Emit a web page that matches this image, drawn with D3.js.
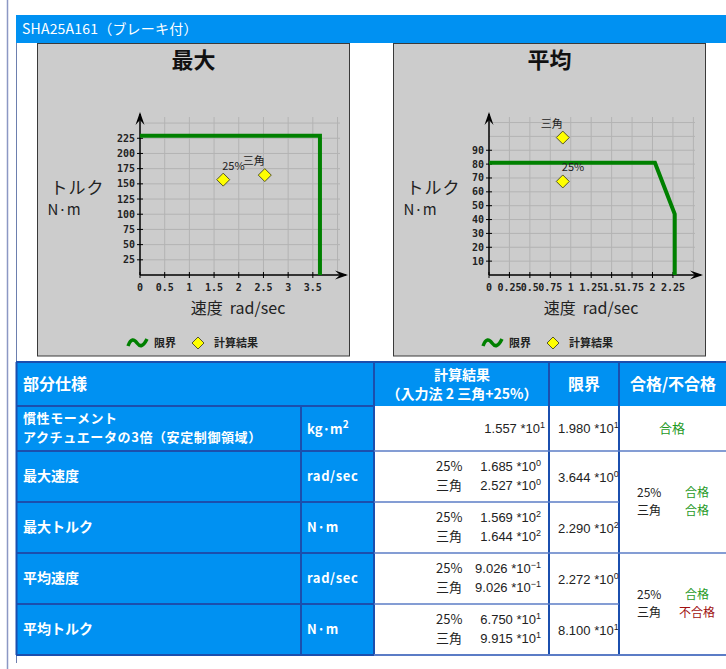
<!DOCTYPE html>
<html>
<head>
<meta charset="utf-8">
<script src="https://cdn.jsdelivr.net/npm/d3@7"></script>
<style>
  html, body { margin: 0; padding: 0; background: #fff; }
  svg text { font-family: "Noto Sans CJK JP", sans-serif; }
</style>
</head>
<body>
<svg id="page" width="726" height="669"></svg>
<script>
// chart data
const resultNames = ['25%', '三角'];

const maxXTicks = [0, 0.5, 1, 1.5, 2, 2.5, 3, 3.5];
const maxYTicks = [25, 50, 75, 100, 125, 150, 175, 200, 225];
const maxLimitSpeed = [0, 3.644, 3.644];
const maxLimitTorque = [229, 229, 0];
const maxSpeedResults = [1.685, 2.527];
const maxTorqueResults = [156.9, 164.4];

const avgXTicks = [0, 0.25, 0.5, 0.75, 1, 1.25, 1.5, 1.75, 2, 2.25];
const avgYTicks = [10, 20, 30, 40, 50, 60, 70, 80, 90];
const avgLimitSpeed = [0, 2.03, 2.272, 2.272];
const avgLimitTorque = [81, 81, 44, 0];
const avgSpeedResults = [0.9026, 0.9026];
const avgTorqueResults = [67.5, 99.15];

// table data
const inertiaResult = 15.57;
const inertiaLimit = 19.80;
const maxSpeedLimit = 3.644;
const maxTorqueLimit = 229.0;
const avgSpeedLimit = 2.272;
const avgTorqueLimit = 81.00;
const rowLabels = ['最大速度', '最大トルク', '平均速度', '平均トルク'];
const rowUnits = ['rad/sec', 'N·m', 'rad/sec', 'N·m'];
const maxJudge = ['合格', '合格'];
const avgJudge = ['合格', '不合格'];

const svg = d3.select('#page');

// page frame
svg.append('line').attr('x1', 7.5).attr('x2', 7.5).attr('y1', 0).attr('y2', 669)
   .attr('stroke', '#8c98c4').attr('stroke-width', 1.5);
svg.append('line').attr('x1', 16.5).attr('x2', 16.5).attr('y1', 15).attr('y2', 663)
   .attr('stroke', '#6d7fae').attr('stroke-width', 1);
svg.append('rect').attr('x', 16).attr('y', 15).attr('width', 712).attr('height', 28)
   .attr('fill', '#0091f2');
svg.append('text').attr('x', 22).attr('y', 29).attr('dy', '0.35em')
   .attr('fill', '#fff').attr('font-size', 14).attr('letter-spacing', 0.2)
   .text('SHA25A161（ブレーキ付）');

function drawChart(cfg) {
  const g = svg.append('g');
  g.append('rect').attr('x', cfg.box[0]).attr('y', cfg.box[1])
   .attr('width', cfg.box[2]).attr('height', cfg.box[3])
   .attr('fill', '#cccccc').attr('stroke', '#3a3a3a').attr('stroke-width', 1);

  const x = d3.scaleLinear().domain(cfg.xDomain).range([cfg.ox, cfg.xEnd]);
  const y = d3.scaleLinear().domain(cfg.yDomain).range([275, 117]);

  // grid
  g.selectAll('.vg').data(cfg.xGrid).join('line')
   .attr('x1', d => x(d)).attr('x2', d => x(d)).attr('y1', y.range()[0]).attr('y2', y.range()[1])
   .attr('stroke', '#b3b3b3').attr('stroke-width', 1);
  g.selectAll('.hg').data(cfg.yGrid).join('line')
   .attr('x1', x.range()[0]).attr('x2', x.range()[1]).attr('y1', d => y(d)).attr('y2', d => y(d))
   .attr('stroke', '#b3b3b3').attr('stroke-width', 1);

  // axes with arrows
  const ox = x(0), oy = y(0);
  g.append('line').attr('x1', ox).attr('x2', ox).attr('y1', oy).attr('y2', 114)
   .attr('stroke', '#000').attr('stroke-width', 1.5);
  g.append('line').attr('x1', ox).attr('x2', cfg.arrowX - 2).attr('y1', oy).attr('y2', oy)
   .attr('stroke', '#000').attr('stroke-width', 1.5);
  g.append('path').attr('d', `M${ox},112 L${ox - 4.5},125 L${ox},120 L${ox + 4.5},125 Z`).attr('fill', '#000');
  g.append('path').attr('d', `M${cfg.arrowX},${oy} L${cfg.arrowX - 13},${oy - 4.5} L${cfg.arrowX - 8},${oy} L${cfg.arrowX - 13},${oy + 4.5} Z`).attr('fill', '#000');

  // ticks
  g.selectAll('.yt').data(cfg.yTicks).join('line')
   .attr('x1', ox - 3).attr('x2', ox + 3).attr('y1', d => y(d)).attr('y2', d => y(d))
   .attr('stroke', '#000');
  g.selectAll('.ytl').data(cfg.yTicks).join('text')
   .attr('x', ox - 5).attr('y', d => y(d)).attr('dy', '0.35em')
   .attr('text-anchor', 'end')
   .attr('font-size', 10).attr('font-weight', 'bold').attr('fill', '#222')
   .style('font-family', '"DejaVu Sans Mono", monospace')
   .text(d => d);
  g.selectAll('.xt').data(cfg.xTicks).join('line')
   .attr('x1', d => x(d)).attr('x2', d => x(d)).attr('y1', oy - 3).attr('y2', oy + 3)
   .attr('stroke', '#000');
  g.selectAll('.xtl').data(cfg.xTicks).join('text')
   .attr('x', d => x(d)).attr('y', oy + 12).attr('dy', '0.35em')
   .attr('text-anchor', 'middle')
   .attr('font-size', 10).attr('font-weight', 'bold').attr('fill', '#222')
   .style('font-family', '"DejaVu Sans Mono", monospace')
   .text(d => String(d));

  // limit line
  const pts = cfg.limitX.map((v, i) => [v, cfg.limitY[i]]);
  g.append('path').attr('d', d3.line().x(d => x(d[0])).y(d => y(d[1]))(pts))
   .attr('fill', 'none').attr('stroke', '#008000').attr('stroke-width', 4);

  // results
  const res = resultNames.map((n, i) => ({ name: n, sx: cfg.resX[i], ty: cfg.resY[i] }));
  g.selectAll('.pt').data(res).join('path')
   .attr('d', d => { const cx = x(d.sx), cy = y(d.ty); return `M${cx},${cy - 6.5} L${cx + 6.5},${cy} L${cx},${cy + 6.5} L${cx - 6.5},${cy} Z`; })
   .attr('fill', '#ffff00').attr('stroke', '#55552a').attr('stroke-width', 1);
  g.selectAll('.pl').data(res).join('text')
   .attr('x', d => x(d.sx) + (d.name === '25%' ? -1 : 0))
   .attr('y', d => y(d.ty) - 10)
   .attr('text-anchor', d => d.name === '25%' ? 'start' : 'end')
   .attr('font-size', 11).attr('fill', '#222')
   .text(d => d.name);

  // titles
  const cx = cfg.box[0] + cfg.box[2] / 2;
  g.append('text').attr('x', cx).attr('y', 60).attr('dy', '0.35em').attr('text-anchor', 'middle')
   .attr('font-size', 22).attr('font-weight', 'bold').attr('fill', '#111').text(cfg.title);
  g.append('text').attr('x', cfg.box[0] + 13).attr('y', 188).attr('dy', '0.35em')
   .attr('font-size', 17).attr('fill', '#222').attr('letter-spacing', 1).text('トルク');
  g.append('text').attr('x', cfg.box[0] + 10).attr('y', 210).attr('dy', '0.35em')
   .attr('font-size', 15).attr('fill', '#222').text('N·m');
  g.append('text').attr('x', cfg.xLabelX).attr('y', 308).attr('dy', '0.35em').attr('text-anchor', 'middle')
   .attr('font-size', 16).attr('fill', '#222').text('速度\u00a0\u00a0rad/sec');

  // legend
  const lx = cfg.legendX, ly = 343;
  g.append('path').attr('d', `M${lx},${ly + 3} C${lx + 3},${ly - 5} ${lx + 6},${ly - 4} ${lx + 9},${ly} S${lx + 15},${ly + 4} ${lx + 19},${ly - 4}`)
   .attr('fill', 'none').attr('stroke', '#008000').attr('stroke-width', 3.5);
  g.append('text').attr('x', lx + 26).attr('y', ly).attr('dy', '0.35em')
   .attr('font-size', 11).attr('font-weight', 'bold').attr('fill', '#222').text('限界');
  g.append('path').attr('d', `M${lx + 70},${ly - 6} L${lx + 76},${ly} L${lx + 70},${ly + 6} L${lx + 64},${ly} Z`)
   .attr('fill', '#ffff00').attr('stroke', '#55552a');
  g.append('text').attr('x', lx + 86).attr('y', ly).attr('dy', '0.35em')
   .attr('font-size', 11).attr('font-weight', 'bold').attr('fill', '#222').text('計算結果');
}

drawChart({
  box: [37.5, 43.5, 312, 312.5], title: '最大',
  xDomain: [0, 4.05], yDomain: [0, 260], ox: 140, xEnd: 340, arrowX: 348,
  xGrid: [0.5, 1, 1.5, 2, 2.5, 3, 3.5, 4], yGrid: [25, 50, 75, 100, 125, 150, 175, 200, 225, 250],
  xTicks: maxXTicks, yTicks: maxYTicks,
  limitX: maxLimitSpeed, limitY: maxLimitTorque,
  resX: maxSpeedResults, resY: maxTorqueResults,
  xLabelX: 238, legendX: 128
});
drawChart({
  box: [393.5, 43.5, 312, 312.5], title: '平均',
  xDomain: [0, 2.52], yDomain: [0, 114], ox: 489, xEnd: 695, arrowX: 703,
  xGrid: [0.25, 0.5, 0.75, 1, 1.25, 1.5, 1.75, 2, 2.25, 2.5], yGrid: [10, 20, 30, 40, 50, 60, 70, 80, 90, 100, 110],
  xTicks: avgXTicks, yTicks: avgYTicks,
  limitX: avgLimitSpeed, limitY: avgLimitTorque,
  resX: avgSpeedResults, resY: avgTorqueResults,
  xLabelX: 591, legendX: 483
});

// ---- table ----
const colX = [16, 301, 374, 549, 619, 728];
const rowY = [362, 406, 451, 502, 553, 604, 655];
const blue = '#0091f2', dark = '#1b4fae', cellLine = '#5b7cc6';
const t = svg.append('g');

// backgrounds
t.append('rect').attr('x', colX[0]).attr('y', rowY[0]).attr('width', colX[5] - colX[0]).attr('height', rowY[1] - rowY[0]).attr('fill', blue);
t.append('rect').attr('x', colX[0]).attr('y', rowY[1]).attr('width', colX[2] - colX[0]).attr('height', rowY[6] - rowY[1]).attr('fill', blue);
t.append('rect').attr('x', colX[2]).attr('y', rowY[1]).attr('width', colX[5] - colX[2]).attr('height', rowY[6] - rowY[1]).attr('fill', '#fff');

// lines in blue area
rowY.forEach((ry, i) => {
  t.append('line').attr('x1', colX[0]).attr('x2', i === 0 || i === 6 ? colX[5] : colX[2] + 1)
   .attr('y1', ry).attr('y2', ry).attr('stroke', dark).attr('stroke-width', 2);
});
t.append('line').attr('x1', colX[0] + 0.5).attr('x2', colX[0] + 0.5).attr('y1', rowY[0]).attr('y2', rowY[6]).attr('stroke', dark).attr('stroke-width', 2);
t.append('line').attr('x1', colX[1]).attr('x2', colX[1]).attr('y1', rowY[1]).attr('y2', rowY[6]).attr('stroke', dark).attr('stroke-width', 2);
[colX[2], colX[3], colX[4]].forEach(cx => {
  t.append('line').attr('x1', cx).attr('x2', cx).attr('y1', rowY[0]).attr('y2', rowY[6]).attr('stroke', dark).attr('stroke-width', 2);
});
// white cell row lines
[rowY[2], rowY[3], rowY[4], rowY[5]].forEach((ry, i) => {
  t.append('line').attr('x1', colX[2]).attr('x2', (i === 1 || i === 3) ? colX[4] : colX[5])
   .attr('y1', ry).attr('y2', ry).attr('stroke', cellLine).attr('stroke-width', 1.5);
});
t.append('line').attr('x1', colX[2]).attr('x2', colX[5]).attr('y1', rowY[6]).attr('y2', rowY[6]).attr('stroke', cellLine).attr('stroke-width', 2);

function txt(x, y, s, opt = {}) {
  return t.append('text').attr('x', x).attr('y', y).attr('dy', '0.35em')
    .attr('text-anchor', opt.anchor || 'start')
    .attr('font-size', opt.size || 13).attr('font-weight', opt.bold ? 'bold' : 'normal')
    .attr('fill', opt.fill || '#222').text(s);
}
function sci(x, y, v, anchor) {
  const [m, e] = v.toExponential(3).split('e');
  const exp = String(+e).replace('-', '−');
  const el = t.append('text').attr('x', x).attr('y', y).attr('dy', '0.35em')
    .attr('text-anchor', anchor).attr('font-size', 13).attr('fill', '#222')
    .style('font-family', '"Liberation Sans", Arial, sans-serif');
  el.append('tspan').text(m + ' *10');
  el.append('tspan').attr('font-size', 9).attr('dy', -5).text(exp);
  return el;
}

// header
txt(23, 384, '部分仕様', { fill: '#fff', bold: true, size: 16 });
txt(462, 375, '計算結果', { fill: '#fff', bold: true, size: 14, anchor: 'middle' });
txt(462, 394, '（入力法 2 三角+25%）', { fill: '#fff', bold: true, size: 14, anchor: 'middle' });
txt(584, 384, '限界', { fill: '#fff', bold: true, size: 16, anchor: 'middle' });
txt(673, 384, '合格/不合格', { fill: '#fff', bold: true, size: 16, anchor: 'middle' });

// row 1 (inertia)
txt(23, 418.5, '慣性モーメント', { fill: '#fff', bold: true, size: 13 }).attr('letter-spacing', 0.6);
txt(23, 437.5, 'アクチュエータの3倍（安定制御領域）', { fill: '#fff', bold: true, size: 13 }).attr('letter-spacing', 0.6);
const kg = txt(307, 429, 'kg·m', { fill: '#fff', bold: true, size: 13 });
kg.append('tspan').attr('font-size', 10).attr('dy', -6).text('2');
sci(545, 428, inertiaResult, 'end');
sci(558, 428, inertiaLimit, 'start');
txt(672, 428, '合格', { fill: '#1f9a1f', size: 13, anchor: 'middle' });

// rows 2-5
const results = [maxSpeedResults, maxTorqueResults, avgSpeedResults, avgTorqueResults];
const limits = [maxSpeedLimit, maxTorqueLimit, avgSpeedLimit, avgTorqueLimit];
rowLabels.forEach((lab, i) => {
  const top = rowY[i + 2], bot = rowY[i + 3], mid = (top + bot) / 2;
  txt(23, mid, lab, { fill: '#fff', bold: true, size: 14 });
  txt(307, mid, rowUnits[i], { fill: '#fff', bold: true, size: 13 }).attr('letter-spacing', 0.6);
  resultNames.forEach((n, j) => {
    const yy = mid - 10 + j * 19;
    txt(436, yy, n, { size: 13 });
    sci(541, yy, results[i][j], 'end');
  });
  sci(558, mid + 1, limits[i], 'start');
});

// judgement cells
[[maxJudge, (rowY[2] + rowY[4]) / 2], [avgJudge, (rowY[4] + rowY[6]) / 2]].forEach(([judge, mid]) => {
  resultNames.forEach((n, j) => {
    const yy = mid - 9 + j * 17.5;
    txt(637, yy, n, { size: 12 });
    txt(697, yy, judge[j], { size: 12, anchor: 'middle', fill: judge[j] === '合格' ? '#1f9a1f' : '#a01010' });
  });
});
</script>
</body>
</html>
